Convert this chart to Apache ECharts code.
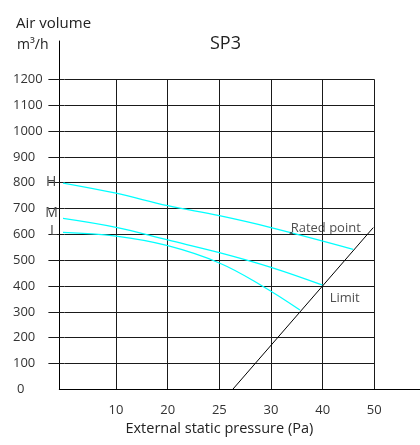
<!DOCTYPE html>
<html>
<head>
<meta charset="utf-8">
<script src="https://cdn.jsdelivr.net/npm/echarts@6/dist/echarts.min.js"></script>
<style>
  html, body { margin: 0; padding: 0; background: #fff; }
  #chart { width: 420px; height: 445px; }
</style>
</head>
<body>
<div id="chart"></div>
<script>
// x is in grid positions: 1..6 are the labelled vertical lines
const xLabels = ['', '10', '20', '25', '30', '40', '50'];

const curveNames = ['H', 'M', 'L'];
const hX = [-0.1, 1, 2, 3, 4, 5.59];
const hY = [801, 759, 711, 672, 626, 542];
const mX = [-0.07, 1, 2, 3, 4, 5.0];
const mY = [663, 627, 578, 529, 472, 403];
const lX = [-0.08, 1, 2, 3, 3.83, 4.56];
const lY = [608, 593, 556, 489, 400, 307];

const limitX = [3.26, 5.98];
const limitY = [0, 626];

const ratedX = [4.39];
const ratedY = [604];
const limitLabelX = [5.0];
const limitLabelY = [403];

const font = '"Open Sans", "Noto Sans", sans-serif';
const gridColor = '#1a1a1a';

var myChart = echarts.init(document.getElementById('chart'));

function pts(xs, ys) {
  return xs.map((x, i) => [x, ys[i]]);
}

function curve(name, xs, ys, offset) {
  const data = pts(xs, ys).map((p, i) => ({
    value: p,
    label: i === 0 ? {
      show: true, formatter: name, position: 'left', distance: 3,
      offset: offset, color: '#444', fontSize: 14, fontFamily: font
    } : { show: false }
  }));
  return {
    name: name, type: 'line', xAxisIndex: 0, yAxisIndex: 0,
    data: data, smooth: 0.4, showSymbol: true, symbol: 'circle', symbolSize: 0,
    clip: false, lineStyle: { color: '#00ffff', width: 1.3 }, silent: true, z: 5
  };
}

var option = {
  animation: false,
  title: [
    { text: 'SP3', left: 205, top: 30, textStyle: { fontFamily: font, fontSize: 18, fontWeight: 'normal', color: '#222' } },
    { text: 'Air volume', left: 11, top: 11, textStyle: { fontFamily: font, fontSize: 15, fontWeight: 'normal', color: '#222' } },
    { text: 'm³/h', left: 12, top: 33, textStyle: { fontFamily: font, fontSize: 14, fontWeight: 'normal', color: '#222' } }
  ],
  grid: [
    // main plot: gridlines, labels, curves
    { left: 64.4, right: 45.7, top: 79.3, bottom: 55.7 },
    // axis lines only
    { left: 59.3, right: 0, top: 41, bottom: 55.7 },
    // left ticks 100..1200
    { left: 64.4, right: 45.7, top: 79.3, bottom: 81.5 }
  ],
  xAxis: [
    {
      gridIndex: 0, type: 'value', min: 0, max: 6, interval: 1,
      axisLine: { show: false }, axisTick: { show: false },
      axisLabel: {
        margin: 14, color: '#333', fontSize: 13, fontFamily: font,
        formatter: (v) => xLabels[Math.round(v)] || ''
      },
      splitLine: { show: true, showMinLine: false, lineStyle: { color: gridColor, width: 1 } },
      name: 'External static pressure (Pa)', nameLocation: 'middle', nameGap: 27,
      nameTextStyle: { fontFamily: font, fontSize: 14.5, color: '#222' }
    },
    {
      gridIndex: 1, type: 'value', min: 0, max: 1,
      axisLine: { show: true, lineStyle: { color: '#000', width: 1 } },
      axisTick: { show: false }, axisLabel: { show: false }, splitLine: { show: false }
    },
    { gridIndex: 2, type: 'value', min: 0, max: 6, show: false }
  ],
  yAxis: [
    {
      gridIndex: 0, type: 'value', min: 0, max: 1200, interval: 100,
      axisLine: { show: false }, axisTick: { show: false },
      axisLabel: {
        align: 'left', margin: 51.4, color: '#333', fontSize: 13, fontFamily: font,
        formatter: (v) => (v === 0 ? '{z|0}' : String(v)),
        rich: { z: { padding: [0, 0, 0, 4], color: '#333', fontSize: 13, fontFamily: font } }
      },
      splitLine: { show: true, lineStyle: { color: gridColor, width: 1 } }
    },
    {
      gridIndex: 1, type: 'value', min: 0, max: 1,
      axisLine: { show: true, lineStyle: { color: '#000', width: 1 } },
      axisTick: { show: false }, axisLabel: { show: false }, splitLine: { show: false }
    },
    {
      gridIndex: 2, type: 'value', min: 100, max: 1200, interval: 100,
      axisLine: { show: false },
      axisTick: { show: true, length: 16, lineStyle: { color: gridColor, width: 1 } },
      axisLabel: { show: false }, splitLine: { show: false }
    }
  ],
  series: [
    curve(curveNames[0], hX, hY, [0, 0]),
    curve(curveNames[1], mX, mY, [0, -5]),
    curve(curveNames[2], lX, lY, [0, -1]),
    {
      name: 'Limit', type: 'line', xAxisIndex: 0, yAxisIndex: 0,
      data: pts(limitX, limitY), symbol: 'none', clip: false, silent: true,
      lineStyle: { color: '#000', width: 1 }, z: 6
    },
    {
      name: 'Rated point', type: 'scatter', xAxisIndex: 0, yAxisIndex: 0,
      data: pts(ratedX, ratedY), symbolSize: 3, itemStyle: { color: '#333' }, silent: true,
      label: {
        show: true, formatter: 'Rated point', position: 'right', distance: -2, offset: [0, -5],
        color: '#222', fontSize: 13, fontFamily: font
      }, z: 7
    },
    {
      name: 'Limit label', type: 'scatter', xAxisIndex: 0, yAxisIndex: 0,
      data: pts(limitLabelX, limitLabelY), symbolSize: 0, silent: true,
      label: {
        show: true, formatter: 'Limit', position: 'right', distance: 7, offset: [0, 13],
        color: '#222', fontSize: 13, fontFamily: font
      }, z: 7
    }
  ]
};

myChart.setOption(option);
</script>
</body>
</html>
